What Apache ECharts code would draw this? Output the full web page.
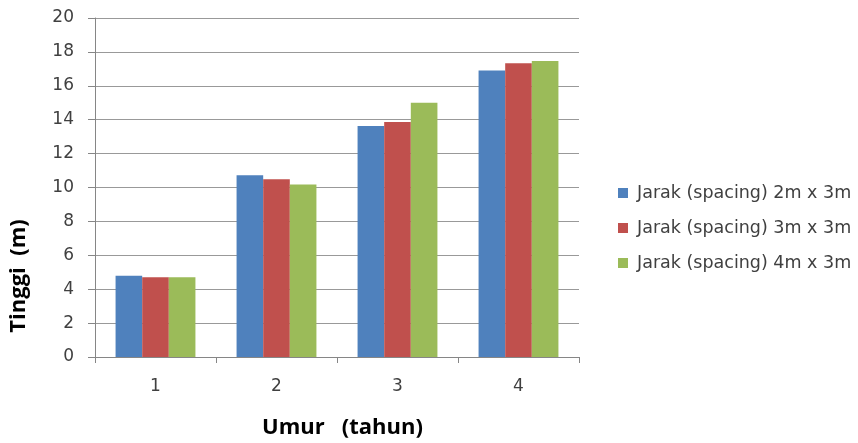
<!DOCTYPE html>
<html><head><meta charset="utf-8">
<script src="https://cdn.jsdelivr.net/npm/echarts@6/dist/echarts.min.js"></script>
<style>html,body{margin:0;padding:0;background:#fff}#c{width:858px;height:443px}</style>
</head><body><div id="c"></div>
<script>
const categories = ['1','2','3','4'];
const seriesNames = ['Jarak (spacing) 2m x 3m','Jarak (spacing) 3m x 3m','Jarak (spacing) 4m x 3m'];
const s2x3 = [4.8, 10.72, 13.63, 16.9];
const s3x3 = [4.7, 10.48, 13.86, 17.33];
const s4x3 = [4.7, 10.18, 15.0, 17.47];
const colors = ['#4F81BD','#C0504D','#9BBB59'];
const yTitle = 'Tinggi  (m)';
const xTitle = 'Umur   (tahun)';

const chart = echarts.init(document.getElementById('c'), null, {renderer:'canvas'});
const data = [s2x3, s3x3, s4x3];
chart.setOption({
  animation:false,
  backgroundColor:'#fff',
  grid:{left:95, right:279, top:18, bottom:86},
  legend:{
    orient:'vertical', left:613, top:179, itemWidth:10, itemHeight:10, itemGap:17,
    icon:'rect',
    textStyle:{fontFamily:'DejaVu Sans', fontSize:17.5, lineHeight:17, color:'#404040', padding:[0,0,0,4]},
    data:seriesNames
  },
  xAxis:{
    type:'category', data:categories,
    axisLine:{lineStyle:{color:'#868686', width:1}},
    axisTick:{show:true, length:6, lineStyle:{color:'#868686'}},
    axisLabel:{fontFamily:'DejaVu Sans', fontSize:17, color:'#404040', margin:21}
  },
  yAxis:{
    type:'value', min:0, max:20, interval:2,
    axisLine:{show:true, lineStyle:{color:'#868686', width:1}},
    axisTick:{show:true, length:7, lineStyle:{color:'#868686'}},
    axisLabel:{fontFamily:'DejaVu Sans', fontSize:17, color:'#404040', margin:21},
    splitLine:{lineStyle:{color:'#999999', width:1}}
  },
  graphic:[
    {type:'text', left:262, top:417, style:{text:xTitle, font:'bold 22px "Open Sans"', fill:'#000'}},
    {type:'text', x:8, y:276, rotation:Math.PI/2, style:{text:yTitle, font:'bold 22px "Open Sans"', fill:'#000', align:'center', verticalAlign:'top'}}
  ],
  series: seriesNames.map((n,i)=>({
    name:n, type:'bar', data:data[i], barGap:'0%', barCategoryGap:'34%',
    itemStyle:{color:colors[i]}
  }))
});
</script></body></html>
